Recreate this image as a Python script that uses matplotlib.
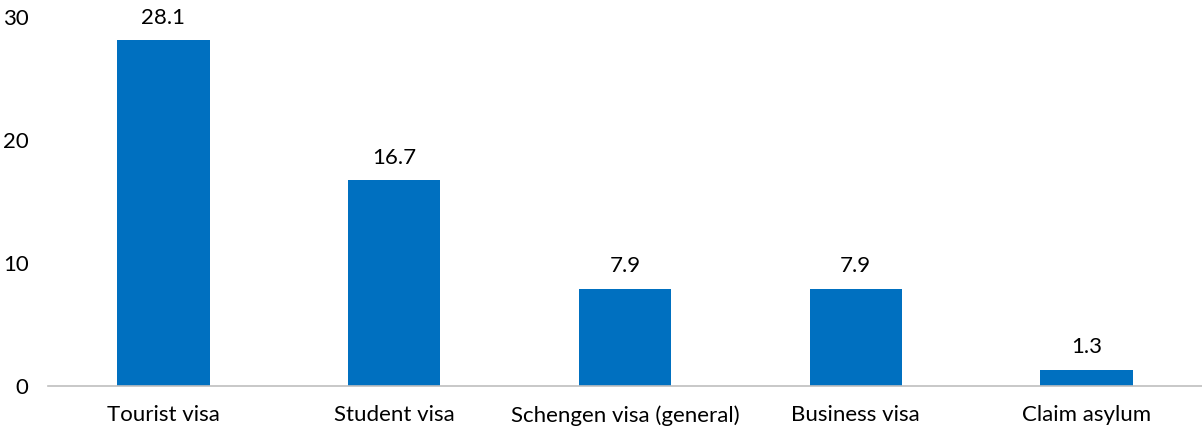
import matplotlib
matplotlib.use("Agg")
import matplotlib.pyplot as plt
import numpy as np

categories = ["Tourist visa", "Student visa", "Schengen visa (general)", "Business visa", "Claim asylum"]
values = [28.1, 16.7, 7.9, 7.9, 1.3]
yticks = [0, 10, 20, 30]

plt.rcParams['font.family'] = ['Lato', 'DejaVu Sans']

fig = plt.figure(figsize=(12.02, 4.32), dpi=100)
ax = fig.add_axes([48 / 1202, 46.3 / 432, 1154 / 1202, 369 / 432])

x = np.arange(len(categories))
bars = ax.bar(x, values, width=0.4, color="#0070C0", zorder=2)

# value labels above each bar
for b, v in zip(bars, values):
    ax.annotate("{:.1f}".format(v), (b.get_x() + b.get_width() / 2, v),
                xytext=(0, 9), textcoords="offset points",
                ha="center", va="bottom", fontsize=16, color="#000000")

ax.set_xlim(-0.5, len(categories) - 0.5)
ax.set_ylim(0, 30)
ax.set_yticks(yticks)
ax.set_xticks(x)
ax.set_xticklabels(categories)
ax.tick_params(axis="both", length=0, labelsize=16, colors="#000000")
ax.tick_params(axis="y", pad=14)
ax.tick_params(axis="x", pad=14)

for s in ["top", "right", "left"]:
    ax.spines[s].set_visible(False)
ax.spines["bottom"].set_color("#BFBFBF")
ax.spines["bottom"].set_linewidth(1.2)

fig.savefig("out.png", dpi=100)
